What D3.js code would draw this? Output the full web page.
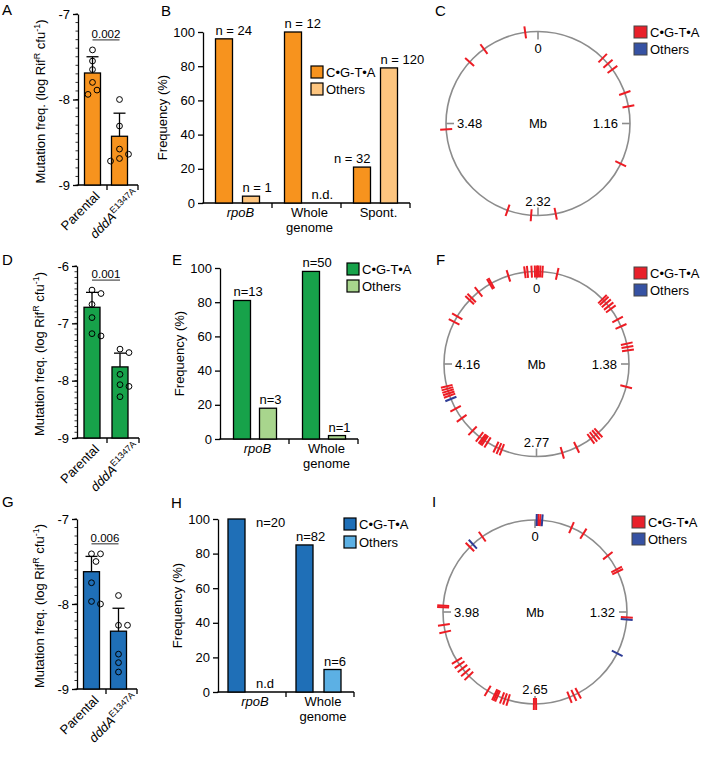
<!DOCTYPE html>
<html><head><meta charset="utf-8">
<script src="https://cdn.jsdelivr.net/npm/d3@7"></script>
<style>
body{margin:0;background:#fff}
svg{display:block}
text{font-family:"Liberation Sans", Arial, Helvetica, sans-serif;fill:#000}
</style>
</head><body>
<svg id="c" width="702" height="758"></svg>
<script>
// ---------------- DATA ----------------
const strains = ["Parental", "dddA"];
const strainSup = ["", "E1347A"];
// panel A (orange)
const meanA = [-7.69, -8.43];
const errA = [-7.50, -8.16];
const ptsA = [[-7.42, -7.55, -7.65, -7.80, -7.94, -7.89], [-8.00, -8.31, -8.58, -8.64, -8.72, -8.69]];
const pA = "0.002";
// panel D (green)
const meanD = [-6.72, -7.76];
const errD = [-6.46, -7.52];
const ptsD = [[-6.48, -6.42, -6.67, -6.90, -7.22, -7.18], [-7.51, -7.45, -7.89, -8.07, -8.10, -8.28]];
const pD = "0.001";
// panel G (blue)
const meanG = [-7.62, -8.32];
const errG = [-7.44, -8.05];
const ptsG = [[-7.41, -7.41, -7.50, -7.75, -8.00, -7.97], [-7.90, -8.25, -8.25, -8.59, -8.69, -8.80]];
const pG = "0.006";

const seriesNames = ["C\u2022G-T\u2022A", "Others"];
// panel B
const catsB = ["rpoB", "Whole\ngenome", "Spont."];
const cgtaB = [96, 100, 21];
const othB = [4, 0, 79];
const nCgtaB = ["n = 24", "n = 12", "n = 32"];
const nOthB = ["n = 1", "n.d.", "n = 120"];
// panel E
const catsE = ["rpoB", "Whole\ngenome"];
const cgtaE = [81, 98];
const othE = [18, 2];
const nCgtaE = ["n=13", "n=50"];
const nOthE = ["n=3", "n=1"];
// panel H
const catsH = ["rpoB", "Whole\ngenome"];
const cgtaH = [100, 85];
const othH = [0, 13];
const nCgtaH = ["n=20", "n=82"];
const nOthH = ["n.d", "n=6"];

// genome maps (positions in Mb)
const sizeC = 4.64;
const ticksC = ["0", "1.16", "2.32", "3.48"];
const redC = [4.537, 4.176, 4.021, 0.576, 0.638, 0.696, 0.910, 1.022, 1.495, 2.177, 2.375, 2.569, 3.433];
const blueC = [];

const sizeF = 5.54;
const ticksF = ["0", "1.38", "2.77", "4.16"];
const redF = [5.268, 5.429, 5.454, 5.494, 5.525, 0.005, 0.015, 0.035, 0.057, 0.199,
  5.075, 5.091, 4.943, 4.828, 4.855, 4.571, 4.632,
  0.700, 0.723, 0.754, 0.789, 0.823, 0.943, 1.016,
  1.190, 1.222, 1.254, 1.604,
  2.124, 2.154, 2.185, 2.216, 2.375, 2.521,
  3.109, 3.139, 3.170, 3.262, 3.293, 3.309, 3.324, 3.355, 3.443,
  3.601, 3.709, 3.847, 3.870, 3.893, 3.916, 3.940];
const blueF = [3.813];

const sizeI = 5.30;
const ticksI = ["0", "1.32", "2.65", "3.98"];
const redI = [0.029, 0.047, 0.344, 0.467, 0.770, 0.920, 0.942, 1.375,
  2.238, 2.282, 2.326, 2.640, 2.660, 2.900, 2.930, 2.959, 3.003, 3.018, 3.033, 3.106,
  3.327, 3.371, 3.416, 3.460, 3.504, 3.791, 3.857, 4.019, 4.034, 4.637, 4.785];
const blueI = [0.015, 0.066, 1.393, 1.718, 4.674];

// ---------------- DRAWING ----------------
const svg = d3.select("#c");
const orange = ["#f7931e", "#fdc57f"];
const green = ["#17a24a", "#a8d58d"];
const blue = ["#1f6fb7", "#5cb0e4"];
const markRed = "#ed1c24", markBlue = "#2e3c96";

function letter(t, x, y) {
  svg.append("text").attr("x", x).attr("y", y).attr("font-size", 15).text(t);
}

function swarm(vals, y, cx, minD, step) {
  const placed = [], out = new Array(vals.length);
  const order = vals.map((v, i) => i).sort((a, b) => vals[b] - vals[a]);
  order.forEach(i => {
    const py = y(vals[i]);
    for (const dx of [0, step, -step, 2 * step, -2 * step]) {
      if (placed.every(p => Math.hypot(p.x - (cx + dx), p.y - py) >= minD)) {
        out[i] = {x: cx + dx, y: py}; placed.push(out[i]); break;
      }
    }
    if (!out[i]) { out[i] = {x: cx, y: py}; placed.push(out[i]); }
  });
  return out;
}

function mutPanel(o) {
  const g = svg.append("g");
  const y = d3.scaleLinear().domain(o.dom).range([o.yBot, o.yTop]);
  const x = d3.scaleBand().domain(strains).range([o.ax, o.x1]);
  const bw = 16;
  d3.range(o.dom[0], o.dom[1] + 1e-6, 0.1).forEach(v => {
    g.append("line").attr("x1", o.ax - 2.5).attr("x2", o.ax).attr("y1", y(v)).attr("y2", y(v))
      .attr("stroke", "#000").attr("stroke-width", 0.8);
  });
  const ya = d3.axisLeft(y).tickValues(o.ticks).tickSize(5).tickSizeOuter(0).tickFormat(d => String(d));
  const ag = g.append("g").attr("transform", `translate(${o.ax},0)`).call(ya);
  ag.select(".domain").attr("stroke", "#000").attr("stroke-width", 1.3);
  ag.selectAll(".tick line").attr("stroke-width", 1.3);
  ag.selectAll(".tick text").attr("font-size", 13).attr("font-family", null).attr("x", -8);
  g.append("line").attr("x1", o.ax - 0.6).attr("x2", o.x1 + 2).attr("y1", o.yBot).attr("y2", o.yBot)
    .attr("stroke", "#000").attr("stroke-width", 1.3);
  [x(strains[1]), o.x1 + 2].forEach(t => g.append("line").attr("x1", t).attr("x2", t)
    .attr("y1", o.yBot).attr("y2", o.yBot + 5).attr("stroke", "#000").attr("stroke-width", 1.3));
  strains.forEach((s, i) => {
    const cx = x(s) + x.bandwidth() / 2 + (i === 1 ? -2 : 0);
    g.append("rect").attr("x", cx - bw / 2).attr("width", bw)
      .attr("y", y(o.mean[i])).attr("height", y(o.dom[0]) - y(o.mean[i]))
      .attr("fill", o.fill).attr("stroke", "#000").attr("stroke-width", 1.3);
    g.append("line").attr("x1", cx).attr("x2", cx).attr("y1", y(o.mean[i])).attr("y2", y(o.err[i]))
      .attr("stroke", "#000").attr("stroke-width", 1.3);
    g.append("line").attr("x1", cx - 6).attr("x2", cx + 6).attr("y1", y(o.err[i])).attr("y2", y(o.err[i]))
      .attr("stroke", "#000").attr("stroke-width", 1.3);
    swarm(o.pts[i], y, cx, 8, 4.5).forEach(p => {
      g.append("circle").attr("cx", p.x).attr("cy", p.y).attr("r", 2.9)
        .attr("fill", "none").attr("stroke", "#000").attr("stroke-width", 1);
    });
    const lx = cx + (i === 0 ? 8 : 20), ly = o.yBot + (i === 0 ? 12 : 10);
    const t = g.append("text").attr("text-anchor", "end").attr("font-size", 13)
      .attr("transform", `translate(${lx},${ly}) rotate(-45)`);
    if (i === 0) t.text(s);
    else {
      t.append("tspan").attr("font-style", "italic").text(s);
      t.append("tspan").attr("font-size", 9).attr("dy", -5).text(strainSup[i]);
    }
  });
  const top = y(d3.max(o.pts.flat())) - 10;
  const c0 = x(strains[0]) + x.bandwidth() / 2, c1 = x(strains[1]) + x.bandwidth() / 2 - 2;
  g.append("line").attr("x1", c0).attr("x2", c1).attr("y1", top).attr("y2", top).attr("stroke", "#111").attr("stroke-width", 0.9);
  g.append("text").attr("x", (c0 + c1) / 2).attr("y", top - 2).attr("text-anchor", "middle").attr("font-size", 11.5).text(o.p);
  const yl = g.append("text").attr("text-anchor", "middle").attr("font-size", 13)
    .attr("transform", `translate(${o.ax - 33},${(o.yTop + o.yBot) / 2 + 2}) rotate(-90)`);
  yl.append("tspan").text("Mutation freq. (log Rif");
  yl.append("tspan").attr("font-size", 9).attr("dy", -5).text("R");
  yl.append("tspan").attr("dy", 5).text(" cfu");
  yl.append("tspan").attr("font-size", 9).attr("dy", -5).text("-1");
  yl.append("tspan").attr("dy", 5).text(")");
}

function freqPanel(o) {
  const g = svg.append("g");
  const y = d3.scaleLinear().domain([0, 100]).range([o.y0, o.y100]);
  const x = d3.scaleBand().domain(o.cats).range([o.bx0, o.bx1]);
  const bw = 17;
  const ya = d3.axisLeft(y).tickValues([0, 20, 40, 60, 80, 100]).tickSize(5).tickSizeOuter(0);
  const ag = g.append("g").attr("transform", `translate(${o.ax},0)`).call(ya);
  ag.select(".domain").attr("stroke", "#000").attr("stroke-width", 1.3);
  ag.selectAll(".tick line").attr("stroke-width", 1.3);
  ag.selectAll(".tick text").attr("font-size", 13).attr("font-family", null).attr("x", -8);
  g.append("line").attr("x1", o.ax - 0.6).attr("x2", o.bx1).attr("y1", o.y0).attr("y2", o.y0)
    .attr("stroke", "#000").attr("stroke-width", 1.3);
  o.cats.forEach((c, i) => {
    const t = x(c) + x.bandwidth();
    g.append("line").attr("x1", t).attr("x2", t).attr("y1", o.y0).attr("y2", o.y0 + 5)
      .attr("stroke", "#000").attr("stroke-width", 1.3);
  });
  const series = [o.s1, o.s2];
  const labels = [o.n1, o.n2];
  o.cats.forEach((c, i) => {
    const cx = x(c) + x.bandwidth() / 2;
    const xs = [cx + o.off[0], cx + o.off[1]];
    series.forEach((s, k) => {
      if (s[i] > 0) {
        g.append("rect").attr("x", xs[k]).attr("width", bw).attr("y", y(s[i])).attr("height", o.y0 - y(s[i]))
          .attr("fill", o.colors[k]).attr("stroke", "#000").attr("stroke-width", 1.3);
      }
      let tx = xs[k], ty = y(s[i]) - 4, anchor = "start";
      const fix = o.fix && o.fix(i, k);
      if (fix === "end") { tx = xs[k] + bw; anchor = "end"; }
      if (fix === "right") { tx = xs[1]; ty = y(s[i]) + 8; }
      g.append("text").attr("x", tx).attr("y", ty).attr("text-anchor", anchor).attr("font-size", 13).text(labels[k][i]);
    });
    c.split("\n").forEach((p, j) => {
      g.append("text").attr("x", cx + 3).attr("y", o.y0 + 14 + j * 15).attr("text-anchor", "middle")
        .attr("font-size", 13).attr("font-style", p === "rpoB" ? "italic" : null).text(p);
    });
  });
  seriesNames.forEach((n, k) => {
    g.append("rect").attr("x", o.legX).attr("y", o.legY + k * o.legDy).attr("width", 12).attr("height", 12)
      .attr("fill", o.colors[k]).attr("stroke", "#000").attr("stroke-width", 1.2);
    g.append("text").attr("x", o.legX + 15).attr("y", o.legY + k * o.legDy + 11).attr("font-size", 13).text(n);
  });
  g.append("text").attr("text-anchor", "middle").attr("font-size", 13)
    .attr("transform", `translate(${o.ax - 36},${(o.y0 + o.y100) / 2}) rotate(-90)`).text("Frequency (%)");
}

function genomePanel(o) {
  const g = svg.append("g");
  const a = d3.scaleLinear().domain([0, o.size]).range([0, 2 * Math.PI]);
  const pt = (v, rr) => [o.cx + rr * Math.sin(a(v)), o.cy - rr * Math.cos(a(v))];
  g.append("circle").attr("cx", o.cx).attr("cy", o.cy).attr("r", o.r)
    .attr("fill", "none").attr("stroke", "#8c8c8c").attr("stroke-width", 1.6);
  o.ticks.forEach((lab, k) => {
    const v = o.size * k / 4;
    const p1 = pt(v, o.r), p2 = pt(v, o.r - 8);
    g.append("line").attr("x1", p1[0]).attr("y1", p1[1]).attr("x2", p2[0]).attr("y2", p2[1])
      .attr("stroke", "#8c8c8c").attr("stroke-width", 1.6);
    const pos = [[o.cx, o.cy - o.r + 21, "middle"], [o.cx + o.r - 12, o.cy + 4.5, "end"],
                 [o.cx, o.cy + o.r - 10, "middle"], [o.cx - o.r + 11, o.cy + 4.5, "start"]][k];
    g.append("text").attr("x", pos[0]).attr("y", pos[1]).attr("text-anchor", pos[2]).attr("font-size", 13).text(lab);
  });
  g.append("text").attr("x", o.cx).attr("y", o.cy + 4.5).attr("text-anchor", "middle").attr("font-size", 13).text("Mb");
  [[o.red, markRed], [o.blue, markBlue]].forEach(([arr, col]) => {
    arr.forEach(v => {
      const p1 = pt(v, o.r - 6), p2 = pt(v, o.r + 6);
      g.append("line").attr("x1", p1[0]).attr("y1", p1[1]).attr("x2", p2[0]).attr("y2", p2[1])
        .attr("stroke", col).attr("stroke-width", 2);
    });
  });
  [["#e8202a", seriesNames[0]], ["#3652a3", seriesNames[1]]].forEach(([col, n], k) => {
    g.append("rect").attr("x", o.legX).attr("y", o.legY + k * 17).attr("width", 13).attr("height", 12)
      .attr("fill", col).attr("stroke", "#444").attr("stroke-width", 1);
    g.append("text").attr("x", o.legX + 16).attr("y", o.legY + k * 17 + 11).attr("font-size", 13).text(n);
  });
}

// Row 1
letter("A", 2, 15);
mutPanel({ax: 78, x1: 136, yTop: 14, yBot: 185, dom: [-9, -7], ticks: [-9, -8, -7],
  mean: meanA, err: errA, pts: ptsA, p: pA, fill: orange[0]});
letter("B", 161, 16);
freqPanel({ax: 203, bx0: 203, bx1: 410, y0: 203, y100: 32, cats: catsB, s1: cgtaB, s2: othB,
  n1: nCgtaB, n2: nOthB, colors: orange, off: [-22, 5], legX: 311, legY: 66, legDy: 17,
  fix: (i, k) => (i === 2 && k === 0) ? "end" : null});
letter("C", 435, 16);
genomePanel({cx: 538, cy: 123.5, r: 92, size: sizeC, ticks: ticksC, red: redC, blue: blueC, legX: 634, legY: 26});

// Row 2
letter("D", 2, 265);
mutPanel({ax: 77, x1: 137, yTop: 266, yBot: 438, dom: [-9, -6], ticks: [-9, -8, -7, -6],
  mean: meanD, err: errD, pts: ptsD, p: pD, fill: green[0]});
letter("E", 172, 265);
freqPanel({ax: 220, bx0: 220, bx1: 358, y0: 439, y100: 268, cats: catsE, s1: cgtaE, s2: othE,
  n1: nCgtaE, n2: nOthE, colors: green, off: [-21, 5], legX: 347, legY: 263, legDy: 17});
letter("F", 436, 265);
genomePanel({cx: 536.5, cy: 364, r: 92.5, size: sizeF, ticks: ticksF, red: redF, blue: blueF, legX: 634, legY: 267});

// Row 3
letter("G", 2, 507);
mutPanel({ax: 77, x1: 135, yTop: 519, yBot: 689, dom: [-9, -7], ticks: [-9, -8, -7],
  mean: meanG, err: errG, pts: ptsG, p: pG, fill: blue[0]});
letter("H", 171, 508);
freqPanel({ax: 218, bx0: 218, bx1: 354, y0: 692, y100: 519, cats: catsH, s1: cgtaH, s2: othH,
  n1: nCgtaH, n2: nOthH, colors: blue, off: [-24, 4], legX: 344, legY: 518, legDy: 18,
  fix: (i, k) => (i === 0 && k === 0) ? "right" : null});
letter("I", 432, 507);
genomePanel({cx: 535, cy: 612, r: 92, size: sizeI, ticks: ticksI, red: redI, blue: blueI, legX: 632, legY: 516});
</script>
</body></html>
